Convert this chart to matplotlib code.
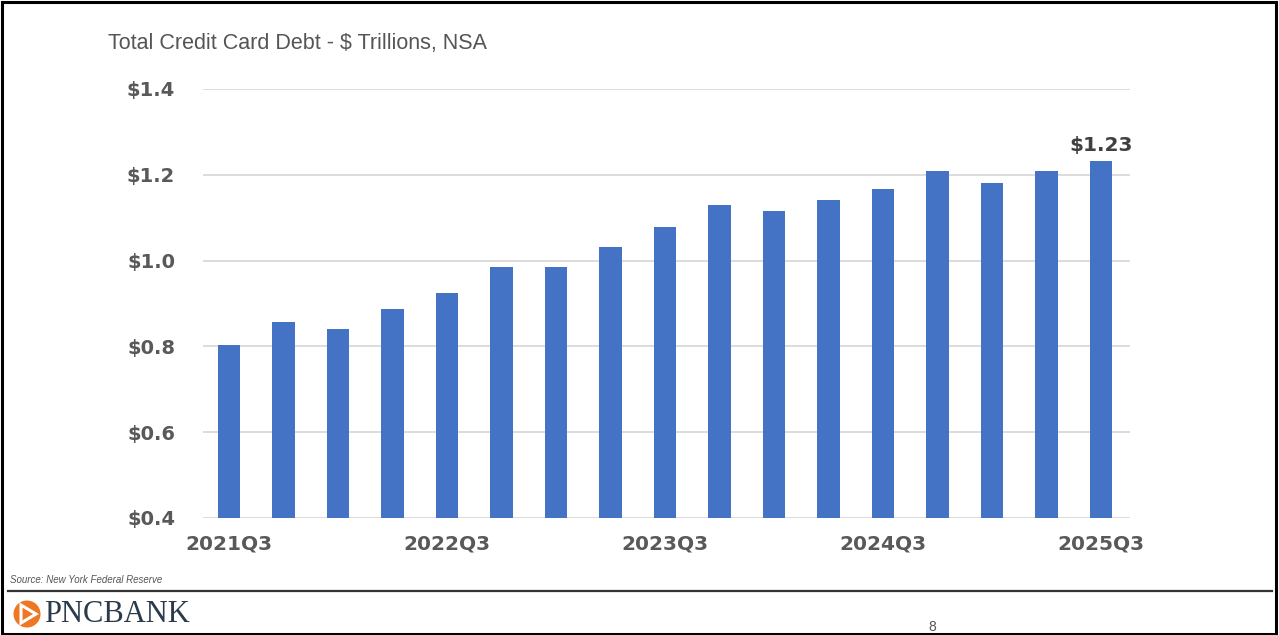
import matplotlib
matplotlib.use("Agg")
import matplotlib.pyplot as plt
from matplotlib.patches import Rectangle, Ellipse, Polygon
from matplotlib.lines import Line2D
import numpy as np

quarters = ["2021Q3", "2021Q4", "2022Q1", "2022Q2", "2022Q3", "2022Q4",
            "2023Q1", "2023Q2", "2023Q3", "2023Q4", "2024Q1", "2024Q2",
            "2024Q3", "2024Q4", "2025Q1", "2025Q2", "2025Q3"]
debt = [0.804, 0.856, 0.841, 0.887, 0.925, 0.986, 0.986, 1.031, 1.079,
        1.129, 1.115, 1.142, 1.166, 1.209, 1.182, 1.209, 1.233]
y_ticks = [0.4, 0.6, 0.8, 1.0, 1.2, 1.4]
shown_labels = ["2021Q3", "2022Q3", "2023Q3", "2024Q3", "2025Q3"]

W, H = 1279, 635
fig = plt.figure(figsize=(W / 100, H / 100), dpi=100)
fig.patch.set_facecolor("white")

ax = fig.add_axes([203 / W, 1 - 518 / H, (1130 - 203) / W, (518 - 89) / H])
x = np.arange(len(quarters))
ax.bar(x, debt, width=0.41, color="#4472C4", zorder=3)
ax.set_xlim(-0.48, len(quarters) - 0.47)
ax.set_ylim(0.4, 1.4)

ax.set_yticks(y_ticks)
ax.set_yticklabels(["$%.1f" % v for v in y_ticks])
ax.set_xticks([quarters.index(q) for q in shown_labels])
ax.set_xticklabels(shown_labels)
ax.tick_params(axis="y", length=0, pad=20, labelsize=14, labelcolor="#595959")
ax.tick_params(axis="x", length=0, pad=12, labelsize=14.5, labelcolor="#595959")
for lbl in ax.get_xticklabels() + ax.get_yticklabels():
    lbl.set_fontweight("bold")
    lbl.set_family("DejaVu Sans")

ax.grid(axis="y", color="#d9d9d9", linewidth=1.3, zorder=0)
for s in ax.spines.values():
    s.set_visible(False)

# value label on the latest bar
ax.text(x[-1], debt[-1] + 0.012, "$%.2f" % debt[-1], ha="center", va="bottom",
        fontsize=14.5, fontweight="bold", color="#404040", family="DejaVu Sans")

# title
fig.text(108 / W, 1 - 43 / H, "Total Credit Card Debt - $ Trillions, NSA",
         fontsize=15.5, color="#555555", family="Liberation Sans",
         ha="left", va="center")

# source note
fig.text(10 / W, 1 - 580 / H, "Source: New York Federal Reserve",
         fontsize=7, style="italic", color="#555555", family="Liberation Sans",
         ha="left", va="center")

# divider line and page frame
fig.add_artist(Line2D([8 / W, 1272 / W], [1 - 591 / H, 1 - 591 / H],
                      color="#333333", linewidth=1.6, transform=fig.transFigure))
fig.add_artist(Rectangle((1.5 / W, 1.5 / H), (W - 4.5) / W, (H - 3) / H,
                         fill=False, edgecolor="black", linewidth=2.2,
                         transform=fig.transFigure))

# page number
fig.text(932 / W, 1 - 627 / H, "8", fontsize=10, color="#555555",
         family="Liberation Sans", ha="center", va="center")

# logo
fig.add_artist(Ellipse((27 / W, 1 - 614 / H), 27 / W, 27 / H,
                       facecolor="#EF7622", edgecolor="none",
                       transform=fig.transFigure))
fig.add_artist(Polygon([(21 / W, 1 - 605 / H), (36 / W, 1 - 614 / H),
                        (21 / W, 1 - 623 / H)], closed=True, facecolor="none",
                       edgecolor="white", linewidth=2.2, transform=fig.transFigure))
fig.text(44 / W, 1 - 614 / H, "PNCBANK", fontsize=22, color="#2b3b4c",
         family="Liberation Serif", ha="left", va="center")

fig.savefig("out.png", dpi=100, facecolor="white")
